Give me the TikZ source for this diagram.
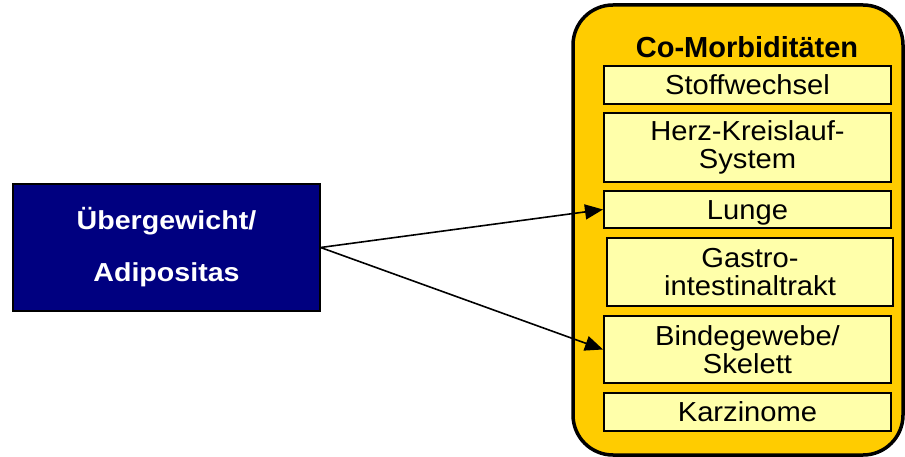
\documentclass[tikz,border=0pt]{standalone}
\usepackage{fontspec}
\setmainfont[FakeStretch=1.06]{Liberation Sans}
\newfontfamily\widefont[FakeStretch=1.1]{Liberation Sans}
\newfontfamily\plainfont{Liberation Sans}
\usetikzlibrary{arrows.meta}
\definecolor{navyfill}{HTML}{000080}
\definecolor{goldfill}{HTML}{FFCC00}
\definecolor{palefill}{HTML}{FFFFAA}
\begin{document}
\begin{tikzpicture}[x=1pt,y=-1pt,
  outerbox/.style={draw=black, line width=3.5pt, fill=goldfill, rounded corners=40pt, inner sep=0pt},
  itembox/.style={draw=black, line width=2pt, fill=palefill, inner sep=0pt, align=center,
    font=\fontsize{27.5}{28}\selectfont},
  oneline/.style={text height=19.5pt, text depth=0pt},
  mainbox/.style={draw=black, line width=1.2pt, fill=navyfill, text=white, inner sep=0pt, align=center,
    font=\widefont\fontsize{26}{52}\selectfont\bfseries},
  titletext/.style={inner sep=0pt, font=\plainfont\fontsize{29}{30}\selectfont\bfseries},
  conn/.style={line width=1.6pt, -{Triangle[length=18pt,width=15pt]}}
]
\useasboundingbox (0,0) rectangle (905,457);
\node[outerbox, minimum width=330pt, minimum height=450pt] (co) at (738,230) {};
\node[titletext] (title) at (747,47) {Co-Morbiditäten};
\node[itembox, oneline, minimum width=287pt, minimum height=38pt] (stoff) at (747.5,85) {Stoffwechsel};
\node[itembox, minimum width=287pt, minimum height=69pt] (herz) at (747.5,147.5) {Herz-Kreislauf-\\System};
\node[itembox, oneline, minimum width=287pt, minimum height=37pt] (lunge) at (747.5,209.5) {Lunge};
\node[itembox, minimum width=286pt, minimum height=68pt] (gastro) at (750,272) {Gastro-\\intestinaltrakt};
\node[itembox, minimum width=287pt, minimum height=67pt] (binde) at (747.5,349.5) {Bindegewebe/\\Skelett};
\node[itembox, oneline, minimum width=287pt, minimum height=38pt] (karz) at (747.5,412) {Karzinome};
\node[mainbox, minimum width=307pt, minimum height=127pt] (adi) at (166.5,247.5) {Übergewicht/\\Adipositas};
\draw[conn] (adi.east) -- (lunge.west);
\draw[conn] (adi.east) -- (binde.west);
\end{tikzpicture}
\end{document}
